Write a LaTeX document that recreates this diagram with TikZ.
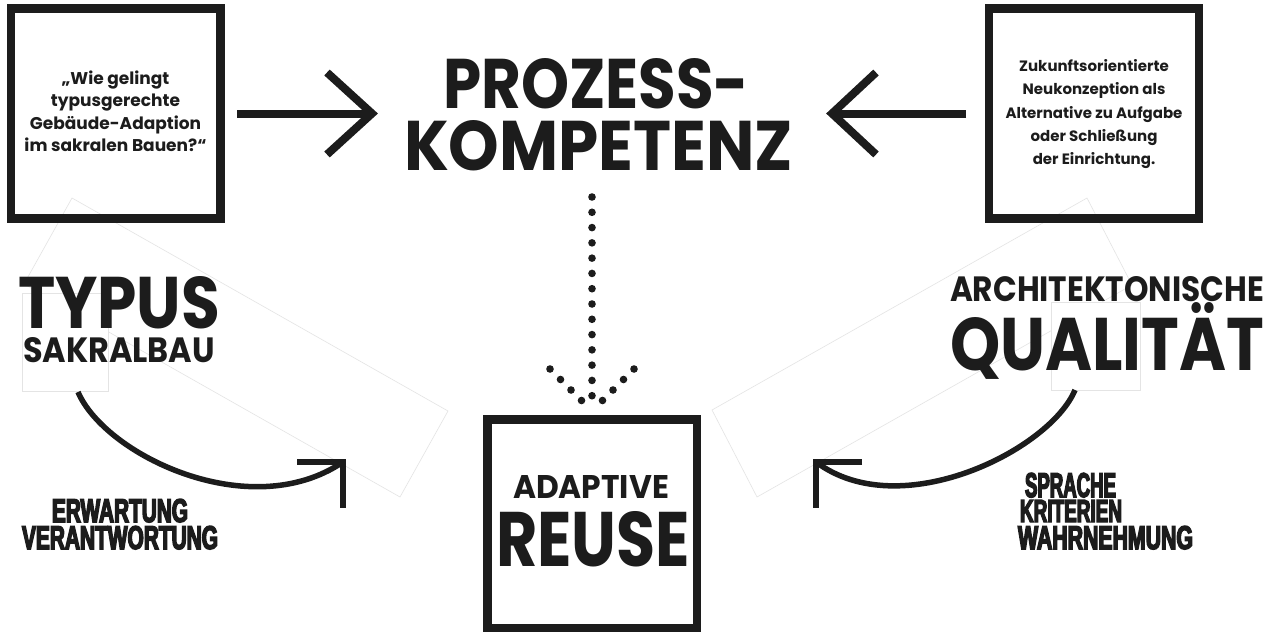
\documentclass[tikz,border=0pt]{standalone}
\usepackage{fontspec}
\usepackage{graphicx}
\usetikzlibrary{calc}
\newfontfamily\geofont{Poppins}
\newfontfamily\condfont[FakeStretch=0.7,FakeBold=4.5]{Liberation Sans}
\definecolor{ink}{HTML}{1C1C1C}
\definecolor{ghost}{HTML}{E4E4E4}
% stretch a line of capitals to a given ink width and cap height
\newcommand{\fitline}[3]{\resizebox{#1pt}{#2pt}{#3}}

\begin{document}
\begin{tikzpicture}[x=1pt,y=-1pt,
  frame/.style={draw=ink, line width=8.5pt, inner sep=0pt, text=ink},
  word/.style={inner sep=0pt, outer sep=0pt, anchor=base west, text=ink, font=\geofont\bfseries},
  cword/.style={inner sep=0pt, outer sep=0pt, anchor=base west, text=ink, font=\condfont\bfseries},
  bar/.style={draw=ink, line width=8pt},
  chev/.style={draw=ink, line width=8pt, line join=miter},
  swoop/.style={draw=ink, line width=5.5pt},
  hook/.style={draw=ink, line width=6pt, line join=miter},
  dotrow/.style={draw=ink, line width=7.6pt, line cap=round, dash pattern=on 0pt off #1},
  ghostbox/.style={draw=ghost, line width=0.6pt, fill=white}]

\useasboundingbox[fill=white] (0,0) rectangle (1273,632);

% faint placeholder frames behind the side labels
\draw[ghostbox] (72,198) -- (448,411) -- (400,497) -- (24,284) -- cycle;
\draw[ghostbox] (1087,198) -- (1132,285) -- (757,497) -- (712,410) -- cycle;
\draw[ghostbox] (22,293) rectangle (108,391);
\draw[ghostbox] (1051,302) rectangle (1140,390);

% framed boxes
\node[frame, minimum width=209.5pt, minimum height=210pt,
      font=\geofont\bfseries\fontsize{17}{22.6}\selectfont] (askbox) at (115.5,113.5)
  {\begin{tabular}{@{}c@{}}„Wie gelingt\\typusgerechte\\Gebäude-Adaption\\im sakralen Bauen?“\end{tabular}};
\node[frame, minimum width=210pt, minimum height=210pt,
      font=\geofont\bfseries\fontsize{15}{23.3}\selectfont] (futurebox) at (1094,113.5)
  {\begin{tabular}{@{}c@{}}Zukunftsorientierte\\Neukonzeption als\\Alternative zu Aufgabe\\oder Schließung\\der Einrichtung.\end{tabular}};
\node[frame, minimum width=209.5pt, minimum height=208.5pt] (reusebox) at (592.25,523.75) {};

% headline
\node[word] (proz1) at (443,108) {\fitline{306}{50}{PROZESS-}};
\node[word] (proz2) at (404,170) {\fitline{389}{50}{KOMPETENZ}};

% box title
\node[word] (ad1) at (513,498) {\fitline{156}{23}{ADAPTIVE}};
\node[word] (ad2) at (496,566) {\fitline{194}{55}{REUSE}};

% left label
\node[word] (typ1) at (18,328) {\fitline{202}{52}{TYPUS}};
\node[word] (typ2) at (23,362) {\fitline{192}{25}{SAKRALBAU}};
\node[cword] (erw1) at (52,522) {\fitline{136}{23}{ERWARTUNG}};
\node[cword] (erw2) at (22,549) {\fitline{196}{23}{VERANTWORTUNG}};

% right label
\node[word] (arc1) at (950,301) {\fitline{314}{25}{ARCHITEKTONISCHE}};
\node[word] (arc2) at (950,370) {\fitline{314}{53}{QUALIT\raisebox{0pt}[0pt][0pt]{Ä}T}};
\node[cword] (spr1) at (1025,497) {\fitline{91}{24}{SPRACHE}};
\node[cword] (spr2) at (1020,522) {\fitline{102}{22}{KRITERIEN}};
\node[cword] (spr3) at (1018,549) {\fitline{175}{23}{WAHRNEHMUNG}};

% straight arrows into the headline
\coordinate (aL0) at (237,113.5);
\coordinate (aL1) at (372,113.5);
\draw[bar] (aL0) -- (aL1);
\draw[chev] ($(aL1)+(-45,-41)$) -- (aL1) -- ($(aL1)+(-45,41)$);
\coordinate (aR0) at (966,113.5);
\coordinate (aR1) at (832,113.5);
\draw[bar] (aR0) -- (aR1);
\draw[chev] ($(aR1)+(44,-41)$) -- (aR1) -- ($(aR1)+(44,41)$);

% dotted arrow from the headline down to the box
\coordinate (dTop) at (592,197);
\coordinate (dTip) at (592,411);
\coordinate (dL) at (550,369);
\coordinate (dR) at (634,369);
\draw[dotrow=15.286pt] (dTop) -- (dTip);
\draw[dotrow=14.85pt] (dL) -- (dTip);
\draw[dotrow=14.85pt] (dR) -- (dTip);

% curved arrows below the side labels
\coordinate (cL0) at (78,392);
\coordinate (cL1) at (343,462);
\draw[swoop] (cL0) .. controls (105,455) and (250,525) .. (cL1);
\draw[hook] ($(cL1)+(-46,0)$) -- (cL1) -- ($(cL1)+(0,46)$);
\coordinate (cR0) at (1075,390);
\coordinate (cR1) at (816,462);
\draw[swoop] (cR0) .. controls (1050,450) and (900,525) .. (cR1);
\draw[hook] ($(cR1)+(46,0)$) -- (cR1) -- ($(cR1)+(0,46)$);
\end{tikzpicture}
\end{document}
